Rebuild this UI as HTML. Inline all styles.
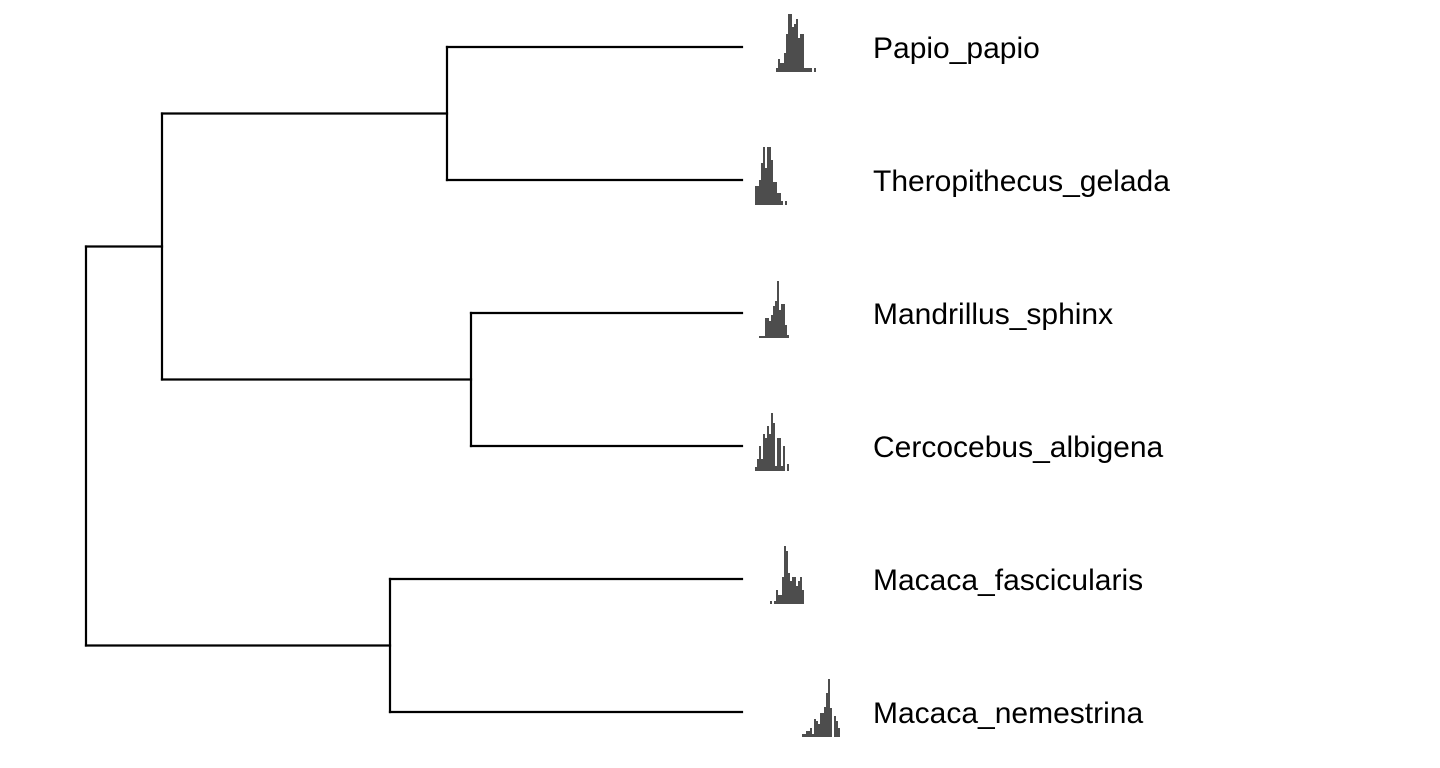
<!DOCTYPE html>
<html><head><meta charset="utf-8"><style>
html,body{margin:0;padding:0;background:#fff;}
svg{display:block;}
text{font-family:"Liberation Sans",Arial,sans-serif;font-size:30px;fill:#000;}
</style></head><body>
<svg id="chart" width="1440" height="768"></svg>
<script>
const taxa = ["Papio_papio","Theropithecus_gelada","Mandrillus_sphinx","Cercocebus_albigena","Macaca_fascicularis","Macaca_nemestrina"];
const tipY = [47,180,313,446,579,712];
const histStart = [776,755,759,755,770,802];
const histPapio = [4,13,9,9,19,38,58,58,45,48,53,34,38,38,4,4,4,4,0,4];
const histGelada = [19,19,25,42,58,37,58,58,45,23,23,12,12,4,0,4];
const histMandrill = [2,2,2,20,20,17,23,32,37,57,28,34,34,13,3];
const histCerco = [4,12,25,12,37,33,45,37,58,48,5,33,33,5,25,0,7];
const histFasc = [3,0,3,14,9,9,27,58,53,31,23,27,27,18,23,27,14];
const histNem = [3,3,6,6,9,3,18,16,13,24,24,30,44,58,29,0,21,16,9];
const hists = [histPapio,histGelada,histMandrill,histCerco,histFasc,histNem];
const NS="http://www.w3.org/2000/svg";
const svg=document.getElementById('chart');
function line(x1,y1,x2,y2,name){
  const l=document.createElementNS(NS,'line');
  l.setAttribute('x1',x1);l.setAttribute('y1',y1);l.setAttribute('x2',x2);l.setAttribute('y2',y2);
  l.setAttribute('stroke','#000');l.setAttribute('stroke-width','2.2');l.setAttribute('stroke-linecap','square');
  
  
  svg.appendChild(l);
}
const tipX=742;
function clade(x,ya,yb,name){line(x,ya,x,yb,name+'-vertical');}
line(447,tipY[0],tipX,tipY[0],'branch-papio');
line(447,tipY[1],tipX,tipY[1],'branch-gelada');
clade(447,tipY[0],tipY[1],'node-papio-gelada');
const m1=(tipY[0]+tipY[1])/2;
line(162,m1,447,m1,'branch-papio-gelada');
line(471,tipY[2],tipX,tipY[2],'branch-mandrillus');
line(471,tipY[3],tipX,tipY[3],'branch-cercocebus');
clade(471,tipY[2],tipY[3],'node-mandrillus-cercocebus');
const m2=(tipY[2]+tipY[3])/2;
line(162,m2,471,m2,'branch-mandrillus-cercocebus');
clade(162,m1,m2,'node-papionina');
const m3=(m1+m2)/2;
line(86,m3,162,m3,'branch-papionina');
line(390,tipY[4],tipX,tipY[4],'branch-fascicularis');
line(390,tipY[5],tipX,tipY[5],'branch-nemestrina');
clade(390,tipY[4],tipY[5],'node-macaca');
const m4=(tipY[4]+tipY[5])/2;
line(86,m4,390,m4,'branch-macaca');
clade(86,m3,m4,'node-root');
const binW=2;
hists.forEach((h,i)=>{
  const base=tipY[i]+25;
  const g=document.createElementNS(NS,'g');
  
  
  h.forEach((v,j)=>{
    if(v<=0)return;
    const r=document.createElementNS(NS,'rect');
    r.setAttribute('x',histStart[i]+j*binW);r.setAttribute('y',base-v);
    r.setAttribute('width',binW);r.setAttribute('height',v);
    r.setAttribute('fill','#4d4d4d');
    
    
    g.appendChild(r);
  });
  svg.appendChild(g);
  const t=document.createElementNS(NS,'text');
  t.setAttribute('x',873);t.setAttribute('y',tipY[i]+11);
  t.textContent=taxa[i];
  
  
  svg.appendChild(t);
});
</script>
</body></html>
